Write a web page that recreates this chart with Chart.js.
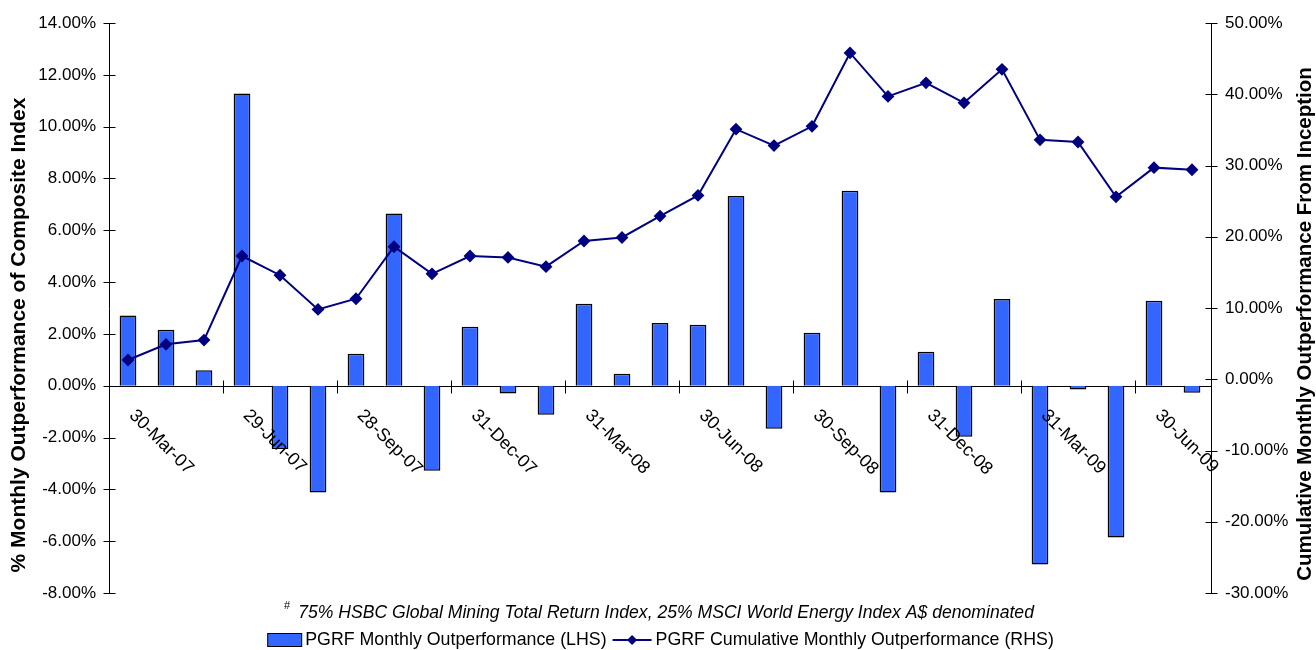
<!DOCTYPE html>
<html>
<head>
<meta charset="utf-8">
<script src="https://cdn.jsdelivr.net/npm/chart.js@4.4.1/dist/chart.umd.min.js"></script>
<style>
  html, body { margin: 0; padding: 0; background: #fff; }
</style>
</head>
<body>
<canvas id="chart" width="1316" height="650"></canvas>
<script>
// month-end dates, Mar-07 .. Jul-09
const months = [
  "30-Mar-07", "30-Apr-07", "31-May-07", "29-Jun-07", "31-Jul-07", "31-Aug-07",
  "28-Sep-07", "31-Oct-07", "30-Nov-07", "31-Dec-07", "31-Jan-08", "29-Feb-08",
  "31-Mar-08", "30-Apr-08", "30-May-08", "30-Jun-08", "31-Jul-08", "29-Aug-08",
  "30-Sep-08", "31-Oct-08", "28-Nov-08", "31-Dec-08", "30-Jan-09", "27-Feb-09",
  "31-Mar-09", "30-Apr-09", "29-May-09", "30-Jun-09", "31-Jul-09"
];

// % monthly outperformance (LHS)
const monthlyOutperf = [
  2.71, 2.16, 0.60, 11.28, -2.44, -4.12, 1.23, 6.65, -3.28, 2.28,
  -0.30, -1.12, 3.16, 0.46, 2.42, 2.35, 7.32, -1.66, 2.04, 7.53,
  -4.12, 1.31, -1.97, 3.35, -6.90, -0.15, -5.86, 3.28, -0.27
];

// cumulative outperformance from inception (RHS)
const cumulativeOutperf = [
  2.7, 4.9, 5.5, 17.3, 14.6, 9.8, 11.3, 18.6, 14.8, 17.3,
  17.1, 15.8, 19.4, 19.9, 22.9, 25.8, 35.1, 32.8, 35.5, 45.8,
  39.7, 41.6, 38.8, 43.5, 33.6, 33.3, 25.6, 29.7, 29.4
];

const labelEvery = 3;
const leftAxisRange = [-8, 14, 2];
const rightAxisRange = [-30, 50, 10];

const barLabel = "PGRF Monthly Outperformance (LHS)";
const lineLabel = "PGRF Cumulative Monthly Outperformance (RHS)";
const leftTitle = "% Monthly Outperformance of Composite Index";
const rightTitle = "Cumulative Monthly Outperformance From Inception";
const footnote = "75% HSBC Global Mining Total Return Index, 25% MSCI World Energy Index A$ denominated";

const FONT = '"Liberation Sans", Arial, sans-serif';
const barColor = "#3366FF";
const lineColor = "#000080";

Chart.defaults.font.family = FONT;
Chart.defaults.font.size = 17;
Chart.defaults.color = "#000";

const pct = (v) => v.toFixed(2) + "%";

// axis ticks, zero line, date labels, titles, footnote and legend
const extras = {
  id: "extras",
  beforeDatasetsDraw(chart) {
    const { ctx, chartArea, scales } = chart;
    const y0 = Math.round(scales.y.getPixelForValue(0)) + 0.5;
    ctx.save();
    ctx.strokeStyle = "#000";
    ctx.lineWidth = 1;
    ctx.beginPath();
    ctx.moveTo(chartArea.left, y0);
    ctx.lineTo(chartArea.right, y0);
    // category tick marks every 3 months
    for (let i = labelEvery; i < months.length; i += labelEvery) {
      const x = Math.round((scales.x.getPixelForValue(i - 1) + scales.x.getPixelForValue(i)) / 2) + 0.5;
      ctx.moveTo(x, y0 - 6);
      ctx.lineTo(x, y0 + 7);
    }
    ctx.stroke();
    ctx.restore();
  },
  afterDraw(chart) {
    const { ctx, chartArea, scales } = chart;
    ctx.save();
    ctx.strokeStyle = "#000";
    ctx.lineWidth = 1;

    // crossing tick marks on both value axes
    ctx.beginPath();
    const lx = Math.round(chartArea.left) + 0.5;
    scales.y.ticks.forEach((t) => {
      const y = Math.round(scales.y.getPixelForValue(t.value)) + 0.5;
      ctx.moveTo(lx - 6, y);
      ctx.lineTo(lx + 6, y);
    });
    const rx = Math.round(chartArea.right) + 0.5;
    scales.y1.ticks.forEach((t) => {
      const y = Math.round(scales.y1.getPixelForValue(t.value)) + 0.5;
      ctx.moveTo(rx - 6, y);
      ctx.lineTo(rx + 6, y);
    });
    ctx.stroke();

    // rotated date labels hanging under the zero line
    const y0 = scales.y.getPixelForValue(0);
    ctx.fillStyle = "#000";
    ctx.font = "18px " + FONT;
    ctx.textAlign = "left";
    ctx.textBaseline = "middle";
    for (let i = 0; i < months.length; i += labelEvery) {
      const x = scales.x.getPixelForValue(i);
      ctx.save();
      ctx.translate(x + 4, y0 + 27);
      ctx.rotate(Math.PI / 4);
      ctx.fillText(months[i], 0, 0);
      ctx.restore();
    }

    // axis titles
    ctx.textAlign = "center";
    ctx.font = "bold 21px " + FONT;
    ctx.save();
    ctx.translate(19, 335);
    ctx.rotate(-Math.PI / 2);
    ctx.fillText(leftTitle, 0, 0);
    ctx.restore();
    ctx.font = "bold 20.5px " + FONT;
    ctx.save();
    ctx.translate(1305, 324);
    ctx.rotate(-Math.PI / 2);
    ctx.fillText(rightTitle, 0, 0);
    ctx.restore();

    // footnote
    const cx = 659;
    ctx.font = "italic 17.6px " + FONT;
    const fw = ctx.measureText(footnote).width;
    ctx.font = "11px " + FONT;
    const hw = ctx.measureText("#").width + 8;
    let fx = cx - (fw + hw) / 2;
    ctx.textAlign = "left";
    ctx.fillText("#", fx, 606);
    ctx.font = "italic 17.6px " + FONT;
    ctx.fillText(footnote, fx + hw, 613);

    // legend
    ctx.font = "17.8px " + FONT;
    const w1 = ctx.measureText(barLabel).width;
    const w2 = ctx.measureText(lineLabel).width;
    const boxW = 34, lineW = 39, gap = 4, sep = 6;
    const total = boxW + gap + w1 + sep + lineW + gap + w2;
    let x = 660.5 - total / 2;
    const ly = 640;
    ctx.fillStyle = barColor;
    ctx.fillRect(x + 0.5, ly - 6.5, boxW, 13);
    ctx.strokeRect(x + 0.5, ly - 6.5, boxW, 13);
    x += boxW + gap;
    ctx.fillStyle = "#000";
    ctx.fillText(barLabel, x, ly);
    x += w1 + sep;
    ctx.strokeStyle = lineColor;
    ctx.lineWidth = 2;
    ctx.beginPath();
    ctx.moveTo(x, ly);
    ctx.lineTo(x + lineW, ly);
    ctx.stroke();
    ctx.fillStyle = lineColor;
    ctx.beginPath();
    const mx = x + lineW / 2;
    ctx.moveTo(mx, ly - 5);
    ctx.lineTo(mx + 5, ly);
    ctx.lineTo(mx, ly + 5);
    ctx.lineTo(mx - 5, ly);
    ctx.closePath();
    ctx.fill();
    x += lineW + gap;
    ctx.fillStyle = "#000";
    ctx.fillText(lineLabel, x, ly);

    ctx.restore();
  },
};

new Chart(document.getElementById("chart"), {
  type: "bar",
  data: {
    labels: months,
    datasets: [
      {
        type: "line",
        label: lineLabel,
        data: cumulativeOutperf,
        yAxisID: "y1",
        borderColor: lineColor,
        borderWidth: 2,
        backgroundColor: lineColor,
        pointStyle: "rectRot",
        pointRadius: 5,
        pointHoverRadius: 5,
        pointBackgroundColor: lineColor,
        pointBorderColor: lineColor,
        tension: 0,
        order: 1,
      },
      {
        type: "bar",
        label: barLabel,
        data: monthlyOutperf,
        yAxisID: "y",
        backgroundColor: barColor,
        borderColor: "#000",
        borderWidth: 1.5,
        barPercentage: 0.44,
        categoryPercentage: 1,
        order: 2,
      },
    ],
  },
  options: {
    responsive: false,
    animation: false,
    events: [],
    layout: { padding: { top: 23, bottom: 57, left: 0, right: 0 } },
    plugins: {
      legend: { display: false },
      tooltip: { enabled: false },
    },
    scales: {
      x: {
        type: "category",
        display: false,
        offset: true,
      },
      y: {
        position: "left",
        min: leftAxisRange[0],
        max: leftAxisRange[1],
        grid: { display: false },
        border: { display: true, color: "#000", width: 1 },
        ticks: {
          stepSize: leftAxisRange[2],
          padding: 5,
          color: "#000",
          font: { size: 17 },
          callback: (v) => pct(v),
        },
        afterFit: (s) => { s.width = 109; },
      },
      y1: {
        position: "right",
        min: rightAxisRange[0],
        max: rightAxisRange[1],
        grid: { display: false },
        border: { display: true, color: "#000", width: 1 },
        ticks: {
          stepSize: rightAxisRange[2],
          padding: 6,
          color: "#000",
          font: { size: 17 },
          callback: (v) => pct(v),
        },
        afterFit: (s) => { s.width = 105; },
      },
    },
  },
  plugins: [extras],
});
</script>
</body>
</html>
